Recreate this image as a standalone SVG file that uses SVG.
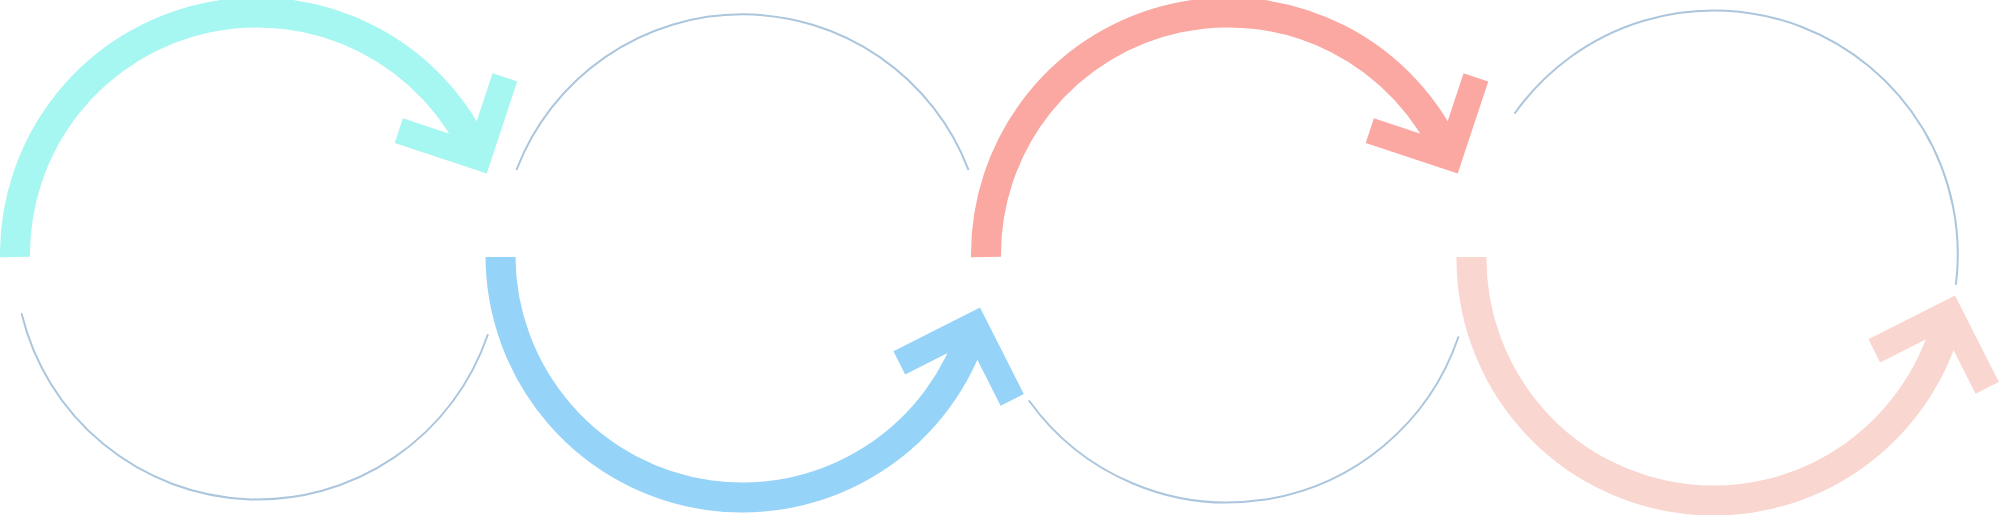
<svg xmlns="http://www.w3.org/2000/svg" width="2000" height="515" viewBox="0 0 2000 515">
  <style>
    .arc { fill: none; stroke-width: 30; stroke-linecap: butt; }
    .head { fill: none; stroke-width: 26; stroke-linecap: butt; stroke-linejoin: miter; }
    .thin { fill: none; stroke: #ABC6DD; stroke-width: 2; stroke-linecap: round; }
    .cyan { stroke: #A6F6F1; }
    .blue { stroke: #96D3F9; }
    .pink { stroke: #FAA8A1; }
    .peach { stroke: #F9D6CF; }
  </style>
  <rect width="2000" height="515" fill="#FFFFFF"/>

  <g id="connectors">
    <path class="thin" d="M 21.7 314 A 243 243 0 0 0 487.7 335"/>
    <path class="thin" d="M 516.7 169.3 A 242 242 0 0 1 968.3 169.3"/>
    <path class="thin" d="M 1029.3 401 A 244 244 0 0 0 1458.3 337.3"/>
    <path class="thin" d="M 1515 113 A 244 244 0 0 1 1956 284"/>
  </g>

  <g id="arrow-1">
    <path class="arc cyan" d="M 15 257 A 242 242 0 0 1 478.5 157"/>
    <polyline class="head cyan" points="398.8,130.6 478.5,157 504.9,77.3"/>
  </g>

  <g id="arrow-2">
    <path class="arc blue" d="M 500.5 257 A 242 242 0 0 0 974.3 325"/>
    <polyline class="head blue" points="899.3,362.9 974.3,325 1012.2,399.9"/>
  </g>

  <g id="arrow-3">
    <path class="arc pink" d="M 986 257 A 242 242 0 0 1 1449.5 157"/>
    <polyline class="head pink" points="1369.8,130.6 1449.5,157 1475.9,77.3"/>
  </g>

  <g id="arrow-4">
    <path class="arc peach" d="M 1471.5 257 A 242 242 0 0 0 1949.3 313"/>
    <polyline class="head peach" points="1874.3,350.9 1949.3,313 1987.2,387.9"/>
  </g>
</svg>
